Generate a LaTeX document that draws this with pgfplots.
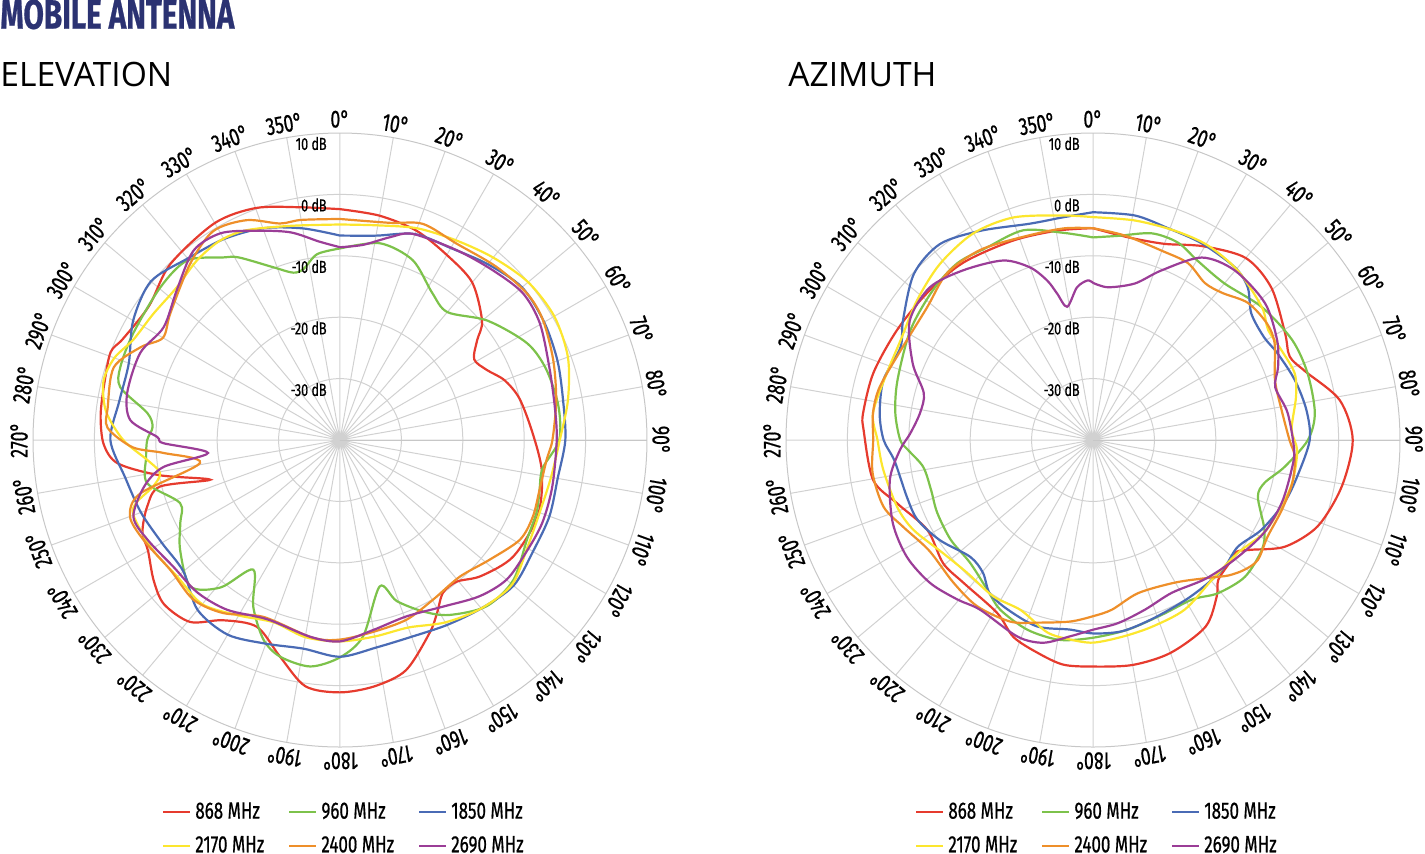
\documentclass[border=0pt]{standalone}
\usepackage{pgfplots}
\pgfplotsset{compat=1.18}
\usepgfplotslibrary{polar}
\usepackage{fontspec}
\setmainfont{Open Sans}
\newfontfamily\cond{Fira Sans}[FakeStretch=0.72,FakeBold=0.6]
\definecolor{cRed}{HTML}{E63B2E}
\definecolor{cGreen}{HTML}{7DC24B}
\definecolor{cBlue}{HTML}{4A6BB5}
\definecolor{cYellow}{HTML}{FCE62E}
\definecolor{cOrange}{HTML}{EE8F2A}
\definecolor{cPurple}{HTML}{9B3D97}
\definecolor{navy}{HTML}{2B3272}
\newcommand\tickfont{\cond\fontsize{12.3}{14}\selectfont}
\newcommand\dbfont{\cond\fontsize{8.7}{10}\selectfont}
\newcommand\legfont{\cond\fontsize{11.8}{13}\selectfont}
\pgfplotsset{
  antenna/.style={
    width=307pt, height=307pt, scale only axis, anchor=center,
    xmin=0, xmax=360, ymin=0, ymax=50,
    xtick={0,10,...,350}, ytick={10,20,30,40},
    xticklabels={}, yticklabels={},
    grid=major, major grid style={draw=black!18, line width=0.5pt},
    axis line style={draw=black!22, line width=0.5pt},
    major tick length=0pt, clip=false,
    x filter/.expression={90-x}, y filter/.expression={y+40},
    every axis plot/.append style={smooth, line width=1.1pt, no markers},
    legend style={at={(0.508,-0.0765)}, anchor=north, draw=none, fill=none,
      font=\legfont, legend columns=3, row sep=3.2pt,
      /tikz/every even column/.append style={column sep=10pt}},
    legend cell align=left,
    legend image code/.code={\draw[##1, line width=1.1pt] (0pt,0pt) -- (13.5pt,0pt);},
  }
}
\begin{document}
\begin{tikzpicture}
\useasboundingbox (0,0) rectangle (712.5pt,-426.5pt);
\node[anchor=north west, inner sep=0pt, text=navy, font=\cond\bfseries\fontsize{20.6}{24}\selectfont] at (0,0.5pt) {MOBILE ANTENNA};
\node[anchor=base west, inner sep=0pt, font=\fontsize{16.8}{20}\selectfont] at (0,-43pt) {ELEVATION};
\node[anchor=base west, inner sep=0pt, font=\fontsize{16.8}{20}\selectfont] at (394pt,-43pt) {AZIMUTH};

% ---------------- ELEVATION ----------------
\begin{polaraxis}[antenna, at={(170pt,-220pt)}]
\addplot[cRed] coordinates {(0,-2.4)(10,-2.9)(20,-3.7)(30,-5.2)(40,-6.5)(50,-9.8)(54,-12.4)(59,-14.5)(64.5,-13.5)(70,-11.5)(77,-10)(88,-8.6)(99,-6.7)(111,-5.5)(124,-6)(134,-8.1)(140.5,-10.1)(146,-10)(150.7,-7.7)(155,-5.4)(164,-1)(172,0.5)(180,1.1)(188,0.5)(195.5,-3.4)(204,-6.7)(213,-5)(219.5,-1.6)(227,-0.8)(233,-2)(240,-3.9)(245,-4.5)(251,-6.8)(255.5,-9.7)(253,-17.9)(259,-10)(264,-3.6)(269,-1.5)(276,-0.8)(284,-0.5)(291,0)(295,-1)(305,-2)(316,-0.2)(330,0.8)(340,0.2)(350,-1.5)(360,-2.4)};
\addlegendentry{868 MHz}
\addplot[cGreen] coordinates {(0,-8.8)(11.5,-7.3)(22,-8.4)(32,-11.7)(40,-12.8)(51,-9.1)(62.6,-5.7)(71,-4.5)(81,-4)(90,-4.3)(98,-6.7)(104,-6.5)(110,-5.9)(118,-5.5)(129,-3.7)(138.6,-3.9)(148,-6.4)(154,-8.9)(160.6,-12.2)(164.8,-15.3)(173.3,-7.8)(180,-4.6)(187.5,-2.8)(195.5,-3.4)(201,-5.2)(207.5,-9.4)(213.8,-14.6)(219,-9.1)(225.6,-5.9)(235.5,-8.4)(242.6,-10.7)(248.5,-12)(257.4,-7.8)(265,-8.3)(270,-8.6)(274,-9.4)(278,-8.3)(283.5,-3.2)(288.4,-2.3)(297.3,-2.1)(310.4,-1.6)(319.6,-1.6)(327.4,-4.7)(331,-6)(338.8,-9.8)(344.4,-11.7)(348,-11.5)(353,-9.5)(360,-8.8)};
\addlegendentry{960 MHz}
\addplot[cBlue] coordinates {(0,-6.7)(10,-6.2)(20,-4.3)(30,-3.9)(40,-2.6)(50,-1.3)(60,-1.6)(70,-2.3)(80,-3.1)(90,-3.3)(100,-4)(110,-3.7)(120,-3.7)(130,-3.1)(140,-4.2)(150,-5.2)(160,-5.9)(170,-5.7)(180,-4.7)(190,-5.5)(200,-4.7)(210,-3.4)(220,-3.9)(230,-6.7)(240,-6.5)(250,-5.5)(260,-4.5)(270,-2.6)(280,-3.5)(290,-3.4)(300,-1.1)(310,0.2)(320,-1.4)(330,-2.2)(340,-3.3)(350,-5)(360,-6.7)};
\addlegendentry{1850 MHz}
\addplot[cYellow] coordinates {(0,-4.9)(10,-4.5)(20,-3.3)(30,-2.4)(40,-1.2)(50,0)(60,0.3)(70,-0.5)(80,-2.3)(90,-4.2)(100,-5.1)(110,-5.4)(120,-4.8)(130,-3.4)(140,-4.2)(150,-5.7)(160,-7.5)(170,-7.5)(180,-7.2)(190,-7.4)(200,-8.4)(210,-7)(220,-5.1)(230,-5.4)(240,-4.6)(250,-4.2)(253,-5.4)(256,-8.6)(259.6,-10.2)(264,-8.5)(270,-4.7)(277,-1.6)(284,-0.3)(290,-0.9)(296,-2.6)(304,-3.3)(313,-3.6)(321.5,-2.6)(329,-2.1)(336,-2.6)(347,-4.2)(360,-4.9)};
\addlegendentry{2170 MHz}
\addplot[cOrange] coordinates {(0,-4)(13,-3.7)(21,-2.3)(30.7,-2.8)(42,-2)(52,-1.3)(59.4,-1.6)(69.4,-2.9)(79.6,-4.2)(90,-5.4)(95.5,-6.2)(104,-6.5)(111.7,-6.2)(119,-6.5)(128.7,-8.8)(138.8,-10.4)(149.8,-9.9)(159.6,-8.8)(170,-8.3)(180,-7.5)(188,-7.5)(203.5,-8.6)(214,-6)(222.6,-4.7)(232.6,-5.2)(243,-4.1)(250,-3.6)(255,-6.3)(260.7,-16.9)(265.8,-11.2)(268,-6.2)(273,-2.1)(278,-1.8)(287.8,-1.3)(295,-4.2)(300,-6.7)(306.8,-5.5)(319.7,-2.3)(328.8,-0.2)(337,-1.1)(344.5,-3.4)(350,-3.6)(360,-4)};
\addlegendentry{2400 MHz}
\addplot[cPurple] coordinates {(0,-8.6)(6.7,-8)(13.8,-6)(19.4,-4.4)(31.6,-3.7)(42,-2.8)(51.2,-1.8)(59.7,-2.3)(70.8,-3.9)(81.3,-4.6)(90,-4.7)(102.4,-4.6)(112.2,-4.4)(121,-4.6)(130,-4.6)(138.3,-5.9)(148.3,-8.1)(159.3,-9.3)(170,-8.6)(180,-7.2)(188.7,-7.6)(202,-8.5)(213.6,-6.8)(223,-6)(232.7,-5.9)(242.6,-4.7)(249.6,-4.1)(256.6,-7.2)(261.3,-10.9)(264.4,-18.4)(269,-11.2)(271,-10.2)(275.4,-5.7)(282.4,-4.5)(293.5,-4.5)(302.6,-5.9)(312.6,-3.9)(322.3,-1)(329.9,-1.1)(337.5,-3.1)(346.5,-5.2)(354,-7.5)(360,-8.6)};
\addlegendentry{2690 MHz}
\end{polaraxis}

% ---------------- AZIMUTH ----------------
\begin{polaraxis}[antenna, at={(546.5pt,-220pt)}]
\addplot[cRed] coordinates {(0,-5.5)(10,-6.5)(20,-6)(29.6,-3.7)(40,-1.3)(49.5,-1.8)(60.9,-4.2)(67,-5.2)(72,-3.7)(80.8,0.7)(90,2.3)(100.7,1.2)(111,-0.8)(119,-4.2)(124.7,-8.6)(128,-10.4)(132,-10.1)(138.2,-9.4)(141.7,-7.5)(148.9,-4.5)(160,-3.1)(170,-2.8)(180,-3.1)(187.6,-3.1)(194.7,-4.2)(202,-5.4)(209,-7.8)(222.3,-8.6)(230.6,-8.4)(241.5,-9.3)(252,-6.5)(259.7,-3.6)(272.5,-2.6)(276.7,-2.3)(287,-2.6)(299.3,-3.4)(311.5,-3.9)(323.7,-4.2)(338,-5)(350.3,-5.4)(360,-5.5)};
\addlegendentry{868 MHz}
\addplot[cGreen] coordinates {(0,-7)(7,-6.5)(15.9,-5)(23.3,-5)(30.3,-6.2)(40,-6.7)(51.8,-5)(63.3,-3.7)(72.7,-3.4)(83,-3.6)(90,-5)(98,-8.5)(104,-11.2)(109,-11.6)(117.6,-8.5)(123,-7.2)(132,-6.7)(140.8,-7.8)(148,-9.4)(158.5,-9.4)(169.6,-8.6)(180,-7.8)(189.4,-7)(199,-7.3)(208.7,-8.5)(215,-10.1)(225,-11.7)(235,-11.7)(245,-12)(253,-12.4)(261,-12)(267,-9.8)(270,-8.6)(277.8,-7.5)(287,-6.7)(301,-5.3)(313,-4.3)(322.5,-3.7)(331,-4.2)(341.6,-4)(351.8,-5.9)(360,-7)};
\addlegendentry{960 MHz}
\addplot[cBlue] coordinates {(0,-2.9)(10.6,-2.8)(19.5,-3.4)(29,-3.4)(39.4,-3.6)(45.4,-4.6)(51.4,-7)(59,-7.5)(64.8,-6.8)(73.5,-5.7)(82,-4.9)(90,-4.7)(100,-6.2)(108,-7.2)(118,-8.9)(126.4,-10.7)(133.9,-10.2)(141,-10.1)(150,-9.9)(161.8,-9.3)(171.4,-8.5)(180,-8.5)(187,-8.9)(196.7,-8.3)(206.8,-9.1)(214,-9.9)(219.6,-11.9)(226.4,-12.4)(236.8,-10.2)(245.6,-8.6)(253,-8.3)(264,-7.5)(270,-5.9)(277,-5)(286,-4.5)(295.7,-5.2)(302.3,-3.4)(312.9,-0.2)(322,0.5)(331.7,-1.3)(343.8,-3.3)(352.3,-3.4)(360,-2.9)};
\addlegendentry{1850 MHz}
\addplot[cYellow] coordinates {(0,-3.7)(10.8,-3.6)(21.3,-3.4)(30.5,-3.2)(40.5,-3.7)(51.8,-5)(57.8,-6.3)(64.5,-6)(71.7,-5.4)(78,-6.2)(87,-7.6)(93,-6.7)(102,-6.8)(109.5,-7.5)(118.4,-8.3)(128,-10.1)(139.6,-10.1)(151.6,-8.6)(162.5,-8.1)(171.6,-7.6)(180,-7)(186.6,-7.3)(193.4,-7.8)(203,-9.9)(212.5,-9.8)(223.5,-10.2)(233,-9.4)(243.4,-7.3)(251,-6.3)(261.9,-5.5)(270,-4.9)(277,-3.9)(288,-4.7)(297.4,-4.7)(308.5,-3.4)(319,-2)(329.9,-1.1)(340.3,-1.5)(352.4,-3.1)(360,-3.7)};
\addlegendentry{2170 MHz}
\addplot[cOrange] coordinates {(0,-5.5)(8.9,-6.3)(20,-7.2)(28.2,-7.3)(35.5,-8.6)(41.3,-8.1)(48.5,-6.3)(56.2,-5.9)(62,-6.5)(71.8,-8.8)(81,-8.9)(90,-8)(94.8,-7)(102,-6.8)(110.3,-7.2)(119,-7.5)(126,-6.8)(130.5,-7.5)(135,-8.8)(140,-10.7)(150,-13.2)(163.6,-14)(173.6,-12.2)(180,-11.3)(187.2,-10.2)(197,-8.9)(204.5,-7.5)(214.8,-7)(224.4,-7.5)(236,-7.8)(245.4,-6)(252.3,-4.2)(261.5,-3.7)(270,-4.2)(277,-3.9)(284,-4.2)(296,-5.5)(308.7,-5.4)(318.8,-3.9)(329.3,-4)(341,-5)(352,-5.2)(360,-5.5)};
\addlegendentry{2400 MHz}
\addplot[cPurple] coordinates {(0,-14.4)(5.6,-15)(15,-13.6)(22,-10.2)(30.8,-5.4)(39.9,-4)(51.5,-4.2)(61.6,-5.9)(68.5,-7.6)(73.8,-9.1)(82,-8)(92.8,-7.2)(98.6,-7.3)(108.4,-7.6)(118.4,-8.3)(130,-9.8)(141,-10.9)(152.7,-12)(163,-11.1)(172.2,-9.9)(180,-9.1)(186.7,-7.8)(193.8,-6)(201,-5.7)(213.6,-6.8)(220.4,-5.9)(228.7,-4.7)(237.8,-4.2)(247.5,-4.7)(259,-6.3)(267,-8.5)(272,-10.2)(279,-11.5)(285.5,-11.4)(293,-8.1)(303,-4.4)(313,-3.6)(322.6,-5.2)(333.4,-7.3)(340,-10.1)(344,-13)(346.2,-15.4)(349,-17.9)(354,-15)(358,-14)(360,-14.4)};
\addlegendentry{2690 MHz}
\end{polaraxis}

% tick labels
\foreach \cx in {170pt,546.5pt}{
  \begin{scope}[shift={(\cx,-220pt)}]
    \foreach \a in {0,10,...,350}{
      \node[font=\tickfont, rotate=-\a, inner sep=0pt] at ({90-\a}:160.5pt) {\a°};
    }
    \foreach \r/\t in {153.75/10 dB,123/0 dB,92.25/-10 dB,61.5/-20 dB,30.75/-30 dB}{
      \node[font=\dbfont, anchor=east, inner sep=0pt] at (-6.5pt,\r pt-5.5pt) {\t};
    }
  \end{scope}
}
\end{tikzpicture}
\end{document}
